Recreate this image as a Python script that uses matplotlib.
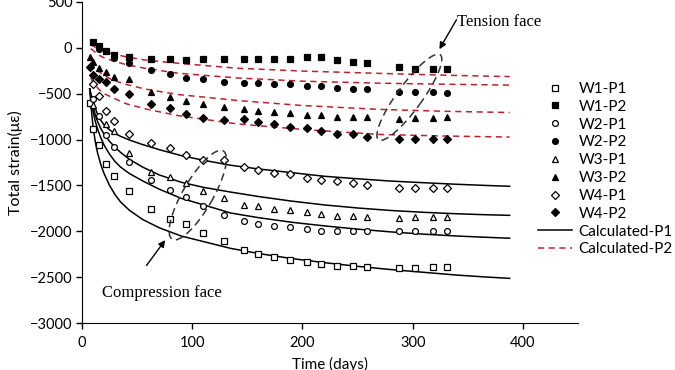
import numpy as np
import matplotlib
matplotlib.use('Agg')
import matplotlib.pyplot as plt
from matplotlib.patches import Ellipse
from matplotlib.transforms import ScaledTranslation

nan = np.nan
days = [7, 10, 15, 22, 29, 43, 63, 80, 94, 110, 129, 147, 160, 174, 189, 204, 217, 231, 246, 259, 288, 302, 318, 331]

w1_p1 = [-600, -885, -1056, -1266, -1401, -1563, -1751, -1860, -1922, -2012, -2106, -2197, -2251, -2280, -2313, -2330, -2359, -2378, -2374, -2389, -2403, -2403, -2389, -2389]
w1_p2 = [nan, 65, 20, -40, -75, -104, -123, -126, -137, -123, -123, -123, -123, -123, -123, -97, -97, -137, -152, -166, -213, -235, -235, -235]
w2_p1 = [nan, -560, -742, -948, -1082, -1248, -1436, -1545, -1624, -1719, -1816, -1889, -1922, -1936, -1954, -1979, -1998, -1994, -1998, -1998, -1998, -1998, -1998, -1998]
w2_p2 = [nan, nan, -15, nan, -110, -170, -242, -282, -326, -340, -372, -387, -387, -398, -398, -416, -419, -434, -445, -445, -478, -478, -478, -495]
w3_p1 = [nan, -620, nan, -826, -906, -1147, -1353, -1405, -1476, -1558, -1635, -1715, -1726, -1755, -1770, -1787, -1806, -1827, -1827, -1842, -1852, -1842, -1842, -1842]
w3_p2 = [-98, -160, -224, -265, -315, -340, -484, -532, -579, -608, -647, -666, -687, -695, -713, -731, -731, -756, -756, -756, -778, -771, -771, -760]
w4_p1 = [nan, -398, -521, -690, -800, -945, -1038, -1097, -1165, -1227, -1227, -1303, -1336, -1364, -1379, -1415, -1444, -1455, -1477, -1491, -1527, -1527, -1527, -1527]
w4_p2 = [-215, -300, -340, -378, -450, -505, -611, -662, -727, -771, -788, -777, -814, -832, -864, -879, -912, -940, -940, -973, -999, -999, -999, -999]

# calculated P1 (solid)
calc1_t = [7, 8, 9, 10, 12, 14, 17, 20, 25, 30, 35, 43, 55, 70, 90, 110, 135, 160, 190, 220, 250, 280, 310, 340, 365, 388]
calc1_w4 = [-450, -500, -545, -590, -660, -720, -790, -840, -895, -935, -965, -1005, -1055, -1110, -1175, -1225, -1280, -1320, -1360, -1400, -1427, -1452, -1470, -1487, -1499, -1509]
calc1_w3 = [-450, -520, -580, -640, -730, -800, -880, -940, -1020, -1085, -1140, -1215, -1300, -1385, -1465, -1520, -1572, -1620, -1670, -1712, -1745, -1772, -1792, -1808, -1818, -1825]
calc1_w2 = [-450, -540, -620, -690, -800, -880, -980, -1060, -1160, -1240, -1300, -1370, -1450, -1540, -1640, -1710, -1800, -1850, -1900, -1940, -1975, -2005, -2030, -2050, -2063, -2074]
calc1_w1 = [-450, -600, -740, -860, -1020, -1140, -1270, -1370, -1500, -1600, -1680, -1770, -1870, -1960, -2050, -2110, -2185, -2240, -2295, -2340, -2380, -2415, -2445, -2475, -2495, -2511]

# calculated P2 (dashed)
calc2_t = [8, 10, 15, 20, 27, 40, 57, 87, 141, 200, 270, 330, 388]
calc2_w1 = [40, 20, -15, -40, -65, -100, -134, -170, -224, -255, -280, -300, -315]
calc2_w2 = [-10, -30, -80, -110, -140, -185, -224, -278, -330, -365, -387, -398, -408]
calc2_w3 = [-150, -200, -260, -300, -350, -400, -450, -510, -575, -630, -672, -693, -706]
calc2_w4 = [-330, -380, -450, -500, -540, -610, -665, -740, -830, -890, -945, -962, -973]

sans = ['Lato', 'DejaVu Sans']
serif = 'Liberation Serif'
plt.rcParams['font.family'] = sans

fig = plt.figure(figsize=(6.75, 3.7), dpi=100)
ax = fig.add_axes([0.1215, 0.1262, 0.7348, 0.8692])

red = '#c0202a'
for i, yv in enumerate([calc1_w4, calc1_w3, calc1_w2, calc1_w1]):
    ax.plot(calc1_t, yv, color='black', lw=1.1, label='Calculated-P1' if i == 0 else None, zorder=2)
for i, yv in enumerate([calc2_w1, calc2_w2, calc2_w3, calc2_w4]):
    ax.plot(calc2_t, yv, color=red, lw=1.1, ls=(0, (4, 3)), label='Calculated-P2' if i == 0 else None, zorder=2)

series = [
    ('W1-P1', w1_p1, 's', False, 4.2),
    ('W1-P2', w1_p2, 's', True, 4.2),
    ('W2-P1', w2_p1, 'o', False, 4.2),
    ('W2-P2', w2_p2, 'o', True, 4.2),
    ('W3-P1', w3_p1, '^', False, 5.0),
    ('W3-P2', w3_p2, '^', True, 5.0),
    ('W4-P1', w4_p1, 'D', False, 3.8),
    ('W4-P2', w4_p2, 'D', True, 3.8),
]
handles = []
for name, yv, mk, filled, ms in series:
    h, = ax.plot(days, yv, ls='none', marker=mk, ms=ms, mec='black', mew=0.9,
                 mfc='black' if filled else 'white', label=name, zorder=3)
    handles.append(h)

lines = ax.get_lines()
handles += [lines[0], lines[4]]

ax.set_xlim(0, 450)
ax.set_ylim(-3000, 500)
ax.set_xticks([0, 100, 200, 300, 400])
ax.set_yticks(np.arange(-3000, 501, 500))
ax.spines['top'].set_visible(False)
ax.spines['right'].set_visible(False)
ax.tick_params(direction='out', length=4, width=1, labelsize=10.5, pad=3)
ax.tick_params(axis='x', pad=5)
ax.set_xlabel('Time (days)', fontsize=11, labelpad=5)
ax.set_ylabel('Total strain(με)', fontsize=11.5, labelpad=5)


def ellipse(cx, cy, w, h, ang):
    tr = fig.dpi_scale_trans + ScaledTranslation(cx, cy, ax.transData)
    e = Ellipse((0, 0), w / 100, h / 100, angle=ang, transform=tr, fill=False,
                ls=(0, (5, 3)), lw=1.1, ec='#333333', zorder=4)
    ax.add_patch(e)


ellipse(297, -540, 105, 25, 54)
ellipse(105, -1605, 102, 30, 60)

ax.annotate('', xy=(323, -43), xytext=(341, 330),
            arrowprops=dict(arrowstyle='-|>', color='black', lw=1, mutation_scale=10))
ax.text(340, 279, 'Tension face', fontsize=12, family=serif, va='center', ha='left')
ax.annotate('', xy=(77, -2070), xytext=(57, -2395),
            arrowprops=dict(arrowstyle='-|>', color='black', lw=1, mutation_scale=10))
ax.text(18, -2667, 'Compression face', fontsize=12, family=serif, va='center', ha='left')

fig.legend(handles=handles, loc='upper left', bbox_to_anchor=(538 / 675, 1 - 82 / 370),
           frameon=False, borderaxespad=0, borderpad=0, handlelength=2.2,
           handletextpad=0.45, labelspacing=0.25, fontsize=11, numpoints=1)

fig.savefig('out.png', dpi=100)
